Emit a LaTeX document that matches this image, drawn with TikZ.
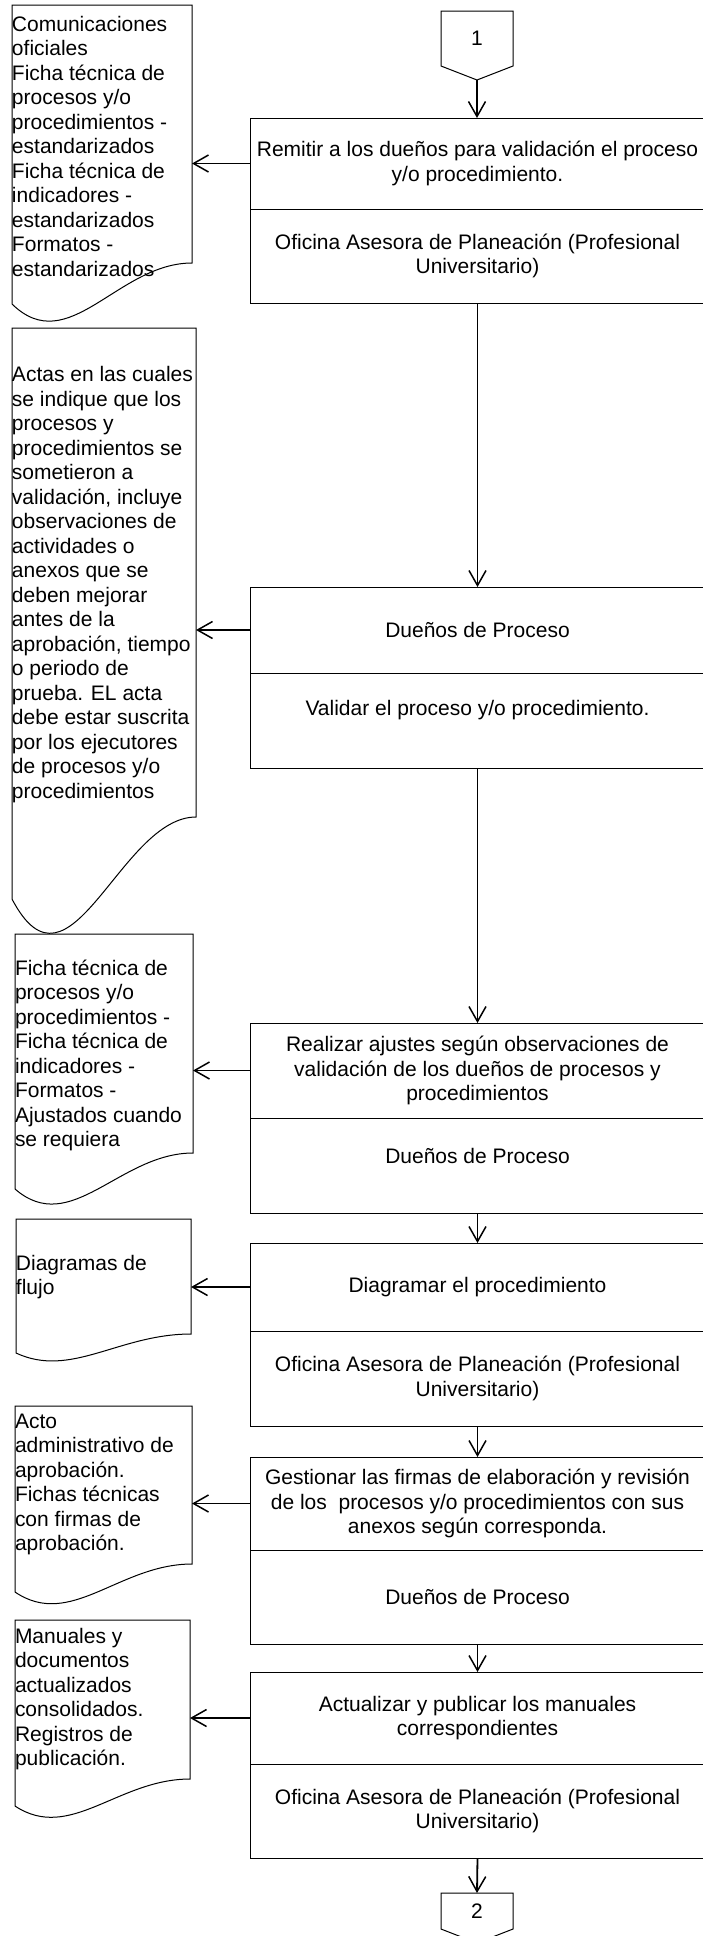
\documentclass[tikz,border=0pt]{standalone}
\usepackage{fontspec}
\setmainfont{Liberation Sans}
\usetikzlibrary{arrows.meta}
% doc shape: name, L, T, R, yR (right bottom corner), yL (left bottom corner)
\newcommand{\docshape}[6]{%
  \pgfmathsetmacro{\docW}{#4-#2}%
  \pgfmathsetmacro{\docD}{#6-#5}%
  \pgfmathsetmacro{\docH}{#5-#3}%
  \node[docbox, minimum width=\docW pt, minimum height=\docH pt, anchor=north west] (#1) at (#2,#3) {};
  \draw[shapeline] (#2,#3) -- (#4,#3) -- (#4,#5)
     .. controls ({#2+0.587*\docW},#5) and ({#2+0.315*\docW},{#6+1.35*\docD}) .. (#2,#6) -- cycle;
}
\begin{document}
\begin{tikzpicture}[x=1pt,y=-1pt,
  every node/.style={font=\fontsize{21pt}{24.5pt}\selectfont, inner sep=0pt, outer sep=0pt},
  part/.style={draw, line width=1pt, minimum width=455pt, align=center},
  docbox/.style={},
  doctext/.style={align=left, anchor=west},
  shapeline/.style={draw, line width=1pt},
  arr/.style={line width=1.8pt, -{Straight Barb[length=15pt,width=17pt,line width=1.5pt]}},
  connbox/.style={minimum width=72pt}
]
\useasboundingbox (0,0) rectangle (703,1936);

% off-page connector 1
\node[connbox, minimum height=55pt] (c1) at (477,38.5) {1};
\draw[shapeline] (c1.north west) -- (c1.north east) -- (c1.south east)
   -- ([yshift=-14pt]c1.south) coordinate (c1tip) -- (c1.south west) -- cycle;

% process boxes
\node[part, minimum height=91pt] (b1a) at (477.5,163.5) {Remitir a los dueños para validación el proceso\\y/o procedimiento.};
\node[part, minimum height=94pt] (b1b) at (477.5,256) {Oficina Asesora de Planeación (Profesional\\Universitario)};

\node[part, minimum height=86pt] (b2a) at (477.5,630) {Dueños de Proceso};
\node[part, minimum height=95pt] (b2b) at (477.5,720.5) {\raisebox{10pt}[\height][\depth]{Validar el proceso y/o procedimiento.}};

\node[part, minimum height=95pt] (b3a) at (477.5,1070.5) {Realizar ajustes según observaciones de\\validación de los dueños de procesos y\\procedimientos};
\node[part, minimum height=95pt] (b3b) at (477.5,1165.5) {\raisebox{10pt}[\height][\depth]{Dueños de Proceso}};

\node[part, minimum height=88pt] (b4a) at (477.5,1287) {Diagramar el procedimiento};
\node[part, minimum height=95pt] (b4b) at (477.5,1378.5) {Oficina Asesora de Planeación (Profesional\\Universitario)};

\node[part, minimum height=93pt] (b5a) at (477.5,1503.5) {Gestionar las firmas de elaboración y revisión\\de los~ procesos y/o procedimientos con sus\\anexos según corresponda.};
\node[part, minimum height=94pt] (b5b) at (477.5,1597) {Dueños de Proceso};

\node[part, minimum height=92pt] (b6a) at (477.5,1718) {Actualizar y publicar los manuales\\correspondientes};
\node[part, minimum height=94pt] (b6b) at (477.5,1811) {Oficina Asesora de Planeación (Profesional\\Universitario)};

% off-page connector 2
\node[connbox, minimum height=36pt] (c2) at (477,1911) {2};
\draw[shapeline] (c2.north west) -- (c2.north east) -- (c2.south east)
   -- ([yshift=-14pt]c2.south) -- (c2.south west) -- cycle;

% documents
\docshape{d1}{12}{5}{192}{263}{304}
\docshape{d2}{12}{328}{196}{817}{899}
\docshape{d3}{15}{934}{193}{1153}{1189}
\docshape{d4}{16}{1219}{191}{1334}{1353}
\docshape{d5}{15}{1406}{192}{1564}{1592}
\docshape{d6}{15}{1620}{190}{1779}{1806}

\node[doctext] (d1t) at (12,146) {Comunicaciones\\oficiales\\Ficha técnica de\\procesos y/o\\procedimientos -\\estandarizados\\Ficha técnica de\\indicadores -\\estandarizados\\Formatos -\\estandarizados};
\node[doctext] (d2t) at (12,584.5) {Actas en las cuales\\se indique que los\\procesos y\\procedimientos se\\sometieron a\\validación, incluye\\observaciones de\\actividades o\\anexos que se\\deben mejorar\\antes de la\\aprobación, tiempo\\o periodo de\\prueba. EL acta\\debe estar suscrita\\por los ejecutores\\de procesos y/o\\procedimientos};
\node[doctext] (d3t) at (15,1055.5) {Ficha técnica de\\procesos y/o\\procedimientos -\\Ficha técnica de\\indicadores -\\Formatos -\\Ajustados cuando\\se requiera};
\node[doctext] (d4t) at (16,1277) {Diagramas de\\flujo};
\node[doctext] (d5t) at (15,1484.5) {Acto\\administrativo de\\aprobación.\\Fichas técnicas\\con firmas de\\aprobación.};
\node[doctext] (d6t) at (15,1699) {Manuales y\\documentos\\actualizados\\consolidados.\\Registros de\\publicación.};

% main flow
\draw[arr] (c1tip) -- (b1a.north -| c1tip);
\draw[arr] (b1b.south) -- (b2a.north);
\draw[arr] (b2b.south) -- (b3a.north);
\draw[arr] (b3b.south) -- (b4a.north);
\draw[arr] (b4b.south) -- (b5a.north);
\draw[arr] (b5b.south) -- (b6a.north);
\draw[arr] (b6b.south) -- (c2.north);

% outputs to documents
\draw[arr] (b1a.west) -- (b1a.west -| d1.east);
\draw[arr] (b2a.west) -- (b2a.west -| d2.east);
\draw[arr] (b3a.west) -- (b3a.west -| d3.east);
\draw[arr] (b4a.west) -- (b4a.west -| d4.east);
\draw[arr] (b5a.west) -- (b5a.west -| d5.east);
\draw[arr] (b6a.west) -- (b6a.west -| d6.east);
\end{tikzpicture}
\end{document}
